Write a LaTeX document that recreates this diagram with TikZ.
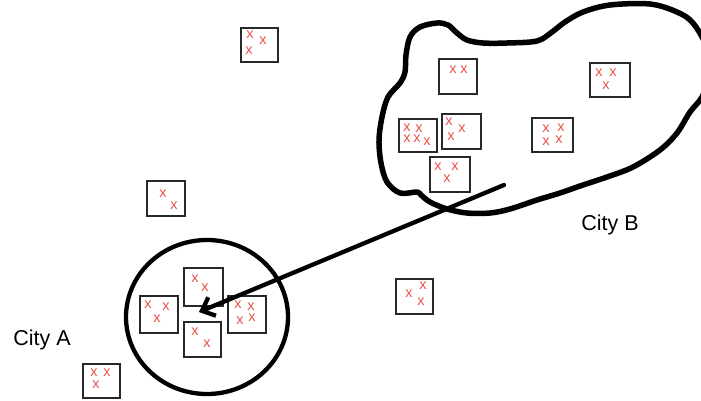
\documentclass[tikz,border=0pt]{standalone}
\usepackage{fontspec}
\setmainfont{Liberation Sans}
\usetikzlibrary{arrows.meta}
\definecolor{xred}{RGB}{235,82,76}
\definecolor{boxgray}{RGB}{40,40,40}
\tikzset{
  cell/.style={draw=boxgray, line width=1.6pt, fill=white, anchor=north west, inner sep=0pt},
  mark x/.style={text=xred, inner sep=0pt, font=\fontsize{14.5}{14.5}\selectfont},
  citylabel/.style={font=\fontsize{21.5}{21.5}\selectfont, inner sep=0pt},
  outline/.style={line width=5.5pt, line join=round, line cap=round},
  ring/.style={line width=4.3pt},
  flow/.style={line width=4.3pt, line cap=round, -{Straight Barb[length=11pt,width=20pt,line width=4.3pt]}}
}
\begin{document}
\begin{tikzpicture}[x=1pt,y=-1pt]
\useasboundingbox (0,0) rectangle (701,400);
% City B outline
\draw[outline] plot[smooth cycle, tension=0.55] coordinates {
 (417,192) (400,193) (387,182) (381,163) (379,140) (382,117) (388,97) (400,83)
 (405,72) (406,55) (410,37) (420,27) (437,23) (448,25) (457,33) (467,40) (483,43)
 (507,43) (537,41) (552,32) (565,22) (583,12) (610,5) (650,4) (677,12) (693,23)
 (707,48) (710,75) (702,97) (690,112) (677,133) (660,150) (633,167) (607,177)
 (583,185) (560,193) (537,200) (510,209) (490,213) (467,213) (447,209) (430,202) (421,195)};
% City A circle
\draw[ring] (207,317) ellipse [x radius=81, y radius=77];
% boxes
\node[cell, minimum width=37pt, minimum height=34pt] (b1) at (240,27) {};
\node[mark x] (b1x1) at (250,35) {x};
\node[mark x] (b1x2) at (263,41) {x};
\node[mark x] (b1x3) at (249,51) {x};
\node[cell, minimum width=38pt, minimum height=35pt] (b2) at (146,180) {};
\node[mark x] (b2x1) at (163,194) {x};
\node[mark x] (b2x2) at (174,206) {x};
\node[cell, minimum width=38pt, minimum height=35pt] (b3) at (438,58) {};
\node[mark x] (b3x1) at (453,70) {x};
\node[mark x] (b3x2) at (464,70) {x};
\node[cell, minimum width=40pt, minimum height=34pt] (b4) at (589,62) {};
\node[mark x] (b4x1) at (599,73) {x};
\node[mark x] (b4x2) at (613,73) {x};
\node[mark x] (b4x3) at (606,86) {x};
\node[cell, minimum width=38pt, minimum height=33pt] (b5) at (398,118) {};
\node[mark x] (b5x1) at (407,128) {x};
\node[mark x] (b5x2) at (419,129) {x};
\node[mark x] (b5x3) at (407,139) {x};
\node[mark x] (b5x4) at (417,139) {x};
\node[mark x] (b5x5) at (427,142) {x};
\node[cell, minimum width=39pt, minimum height=35pt] (b6) at (441,113) {};
\node[mark x] (b6x1) at (449,122) {x};
\node[mark x] (b6x2) at (462,129) {x};
\node[mark x] (b6x3) at (451,137) {x};
\node[cell, minimum width=40pt, minimum height=35pt] (b7) at (429,156) {};
\node[mark x] (b7x1) at (438,167) {x};
\node[mark x] (b7x2) at (455,167) {x};
\node[mark x] (b7x3) at (447,179) {x};
\node[cell, minimum width=41pt, minimum height=34pt] (b8) at (531,117) {};
\node[mark x] (b8x1) at (546,129) {x};
\node[mark x] (b8x2) at (561,128) {x};
\node[mark x] (b8x3) at (546,142) {x};
\node[mark x] (b8x4) at (559,140) {x};
\node[cell, minimum width=37pt, minimum height=35pt] (b9) at (395,278) {};
\node[mark x] (b9x1) at (409,294) {x};
\node[mark x] (b9x2) at (423,286) {x};
\node[mark x] (b9x3) at (421,302) {x};
\node[cell, minimum width=37pt, minimum height=34pt] (b10) at (82,363) {};
\node[mark x] (b10x1) at (94,373) {x};
\node[mark x] (b10x2) at (107,373) {x};
\node[mark x] (b10x3) at (96,385) {x};
% boxes in City A
\node[cell, minimum width=39pt, minimum height=38pt] (ct) at (183,267) {};
\node[mark x] (ctx1) at (195,279) {x};
\node[mark x] (ctx2) at (205,288) {x};
\node[cell, minimum width=38pt, minimum height=37pt] (cl) at (139,295) {};
\node[mark x] (clx1) at (148,305) {x};
\node[mark x] (clx2) at (166,307) {x};
\node[mark x] (clx3) at (157,319) {x};
\node[cell, minimum width=37pt, minimum height=35pt] (cb) at (183,321) {};
\node[mark x] (cbx1) at (195,332) {x};
\node[mark x] (cbx2) at (207,344) {x};
\node[cell, minimum width=38pt, minimum height=37pt] (cr) at (227,295) {};
\node[mark x] (crx1) at (238,305) {x};
\node[mark x] (crx2) at (251,307) {x};
\node[mark x] (crx3) at (240,321) {x};
\node[mark x] (crx4) at (252,318) {x};
% labels
\node[citylabel] (cityA) at (42,340) {City A};
\node[citylabel] (cityB) at (610,225) {City B};
% arrow
\coordinate (from) at (504,185);
\coordinate (to) at (199,312);
\draw[flow] (from) -- (to);
\end{tikzpicture}
\end{document}
